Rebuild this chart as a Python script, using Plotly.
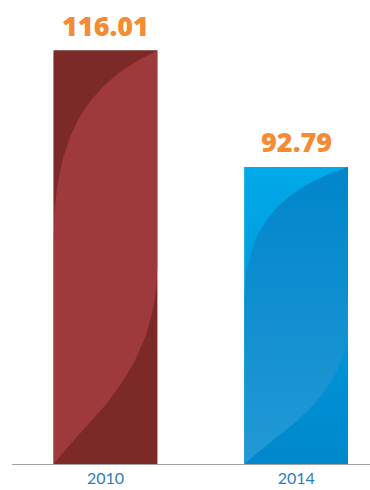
import numpy as np
import plotly.graph_objects as go

# Data
years = ["2010", "2014"]
values = [116.01, 92.79]
value_labels = ["116.01", "92.79"]

# Styling per bar: base gradient (top, bottom) and leaf overlay gradient (top, bottom)
base_top = ["#7C2A28", "#00AAE9"]
base_bottom = ["#7C2A28", "#0087CC"]
leaf_top = ["#9E3A3B", "#0086CB"]
leaf_bottom = ["#9E3A3B", "#2399D6"]

Y_MIN, Y_MAX = 33.58, 126.08
BAR_WIDTH = 0.543
X_RANGE = [-0.490, 1.387]


def bezier(p0, p1, p2, p3, n=40):
    s = np.linspace(0, 1, n)[:, None]
    pts = ((1 - s) ** 3) * p0 + 3 * ((1 - s) ** 2) * s * p1 + 3 * (1 - s) * s ** 2 * p2 + s ** 3 * p3
    return pts


def leaf_outline():
    """Lens outline in unit bar space: u=0 left .. 1 right, t=0 top .. 1 bottom."""
    left = bezier(np.array([1.0, 0.0]), np.array([0.4, 0.07]),
                  np.array([0.0, 0.18]), np.array([0.0, 0.46]))
    right = bezier(np.array([0.0, 1.0]), np.array([0.3, 0.9]),
                   np.array([1.0, 0.78]), np.array([1.0, 0.52]))
    pts = np.vstack([left, [[0.0, 1.0]], right, [[1.0, 0.0]]])
    return pts[:, 0], pts[:, 1]


fig = go.Figure()

fig.add_trace(go.Bar(
    x=list(range(len(years))), y=values, width=BAR_WIDTH,
    marker=dict(color=base_top, line=dict(width=0)),
    hoverinfo="skip", showlegend=False,
))

u, t = leaf_outline()
for i, v in enumerate(values):
    x0 = i - BAR_WIDTH / 2
    # base shading over the bar body
    fig.add_trace(go.Scatter(
        x=[x0, x0 + BAR_WIDTH, x0 + BAR_WIDTH, x0, x0],
        y=[v, v, Y_MIN, Y_MIN, v],
        mode="lines", line=dict(width=0), fill="toself",
        fillgradient=dict(type="vertical",
                          colorscale=[[0, base_bottom[i]], [1, base_top[i]]]),
        hoverinfo="skip", showlegend=False,
    ))
    # leaf highlight
    fig.add_trace(go.Scatter(
        x=x0 + u * BAR_WIDTH,
        y=v - t * (v - Y_MIN),
        mode="lines", line=dict(width=0), fill="toself",
        fillgradient=dict(type="vertical",
                          colorscale=[[0, leaf_bottom[i]], [1, leaf_top[i]]]),
        hoverinfo="skip", showlegend=False,
    ))
    fig.add_annotation(
        x=i, y=v, text=value_labels[i], showarrow=False,
        yanchor="bottom", yshift=5,
        font=dict(family="Open Sans", size=27, weight=800, color="#F58C34"),
    )

fig.update_layout(
    width=370, height=490,
    margin=dict(l=12, r=0, t=0, b=26),
    paper_bgcolor="white", plot_bgcolor="white",
    xaxis=dict(
        range=X_RANGE, tickvals=list(range(len(years))), ticktext=years,
        showline=True, linecolor="#A0A0A0", linewidth=1,
        showgrid=False, zeroline=False, ticks="",
        tickfont=dict(family="Lato", size=16, color="#2B7CC0"),
        fixedrange=True,
    ),
    yaxis=dict(range=[Y_MIN, Y_MAX], visible=False, showgrid=False,
               zeroline=False, fixedrange=True),
)

fig.write_html("out.html")
